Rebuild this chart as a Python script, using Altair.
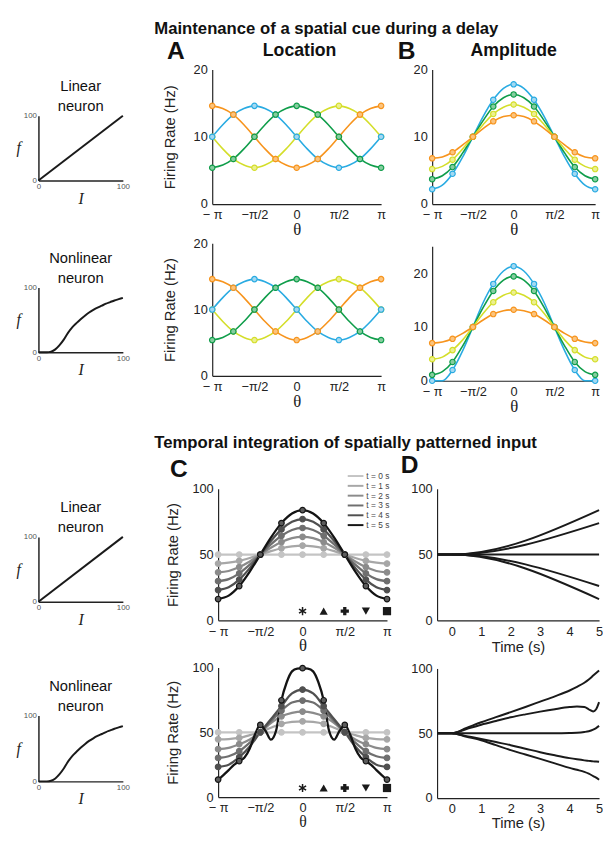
import altair as alt
import pandas as pd

FONT = "Liberation Sans"
SERIF = "Liberation Serif"
TITLE_FONT = "Liberation Sans Narrow, Liberation Sans"
INK = "#1a1a1a"

# ---------------- shared axes ----------------
theta_pi = [-1.0, -0.875, -0.75, -0.625, -0.5, -0.375, -0.25, -0.125, 0.0,
            0.125, 0.25, 0.375, 0.5, 0.625, 0.75, 0.875, 1.0]
theta_pi_fine = [-1.0, -0.9375, -0.875, -0.8125, -0.75, -0.6875, -0.625, -0.5625, -0.5,
                 -0.4375, -0.375, -0.3125, -0.25, -0.1875, -0.125, -0.0625, 0.0,
                 0.0625, 0.125, 0.1875, 0.25, 0.3125, 0.375, 0.4375, 0.5,
                 0.5625, 0.625, 0.6875, 0.75, 0.8125, 0.875, 0.9375, 1.0]
theta_tick_values = [-1, -0.5, 0, 0.5, 1]
theta_tick_labels = ["\u2212 \u03c0", "\u2212\u03c0/2", "0", "\u03c0/2", "\u03c0"]

# ---------------- A: location (same for linear and nonlinear) ----------------
cue_names = ["yellow", "blue", "orange", "green"]          # drawing order A
loc_yellow = [10.0, 8.2, 6.7, 5.8, 5.4, 5.8, 6.7, 8.2, 10.0, 11.8, 13.3, 14.2, 14.6, 14.2, 13.3, 11.8, 10.0]
loc_blue = [10.0, 11.8, 13.3, 14.2, 14.6, 14.2, 13.3, 11.8, 10.0, 8.2, 6.7, 5.8, 5.4, 5.8, 6.7, 8.2, 10.0]
loc_orange = [14.6, 14.2, 13.3, 11.8, 10.0, 8.2, 6.7, 5.8, 5.4, 5.8, 6.7, 8.2, 10.0, 11.8, 13.3, 14.2, 14.6]
loc_green = [5.4, 5.8, 6.7, 8.2, 10.0, 11.8, 13.3, 14.2, 14.6, 14.2, 13.3, 11.8, 10.0, 8.2, 6.7, 5.8, 5.4]

# ---------------- B: amplitude ----------------
amp_names = ["blue", "green", "yellow", "orange"]          # drawing order B
amp_lin_blue = [2.2, 2.8, 4.5, 7.0, 10.0, 13.0, 15.5, 17.2, 17.8, 17.2, 15.5, 13.0, 10.0, 7.0, 4.5, 2.8, 2.2]
amp_lin_green = [3.7, 4.2, 5.5, 7.6, 10.0, 12.4, 14.5, 15.8, 16.3, 15.8, 14.5, 12.4, 10.0, 7.6, 5.5, 4.2, 3.7]
amp_lin_yellow = [5.2, 5.6, 6.6, 8.2, 10.0, 11.8, 13.4, 14.4, 14.8, 14.4, 13.4, 11.8, 10.0, 8.2, 6.6, 5.6, 5.2]
amp_lin_orange = [6.8, 7.0, 7.7, 8.8, 10.0, 11.2, 12.3, 13.0, 13.2, 13.0, 12.3, 11.2, 10.0, 8.8, 7.7, 7.0, 6.8]
amp_nl_blue = [0.0, 0.0, 2.0, 5.6, 10.0, 14.5, 18.0, 20.4, 21.3, 20.4, 18.0, 14.5, 10.0, 5.6, 2.0, 0.0, 0.0]
amp_nl_green = [1.1, 1.7, 3.5, 6.5, 10.0, 13.6, 16.7, 18.7, 19.4, 18.7, 16.7, 13.6, 10.0, 6.5, 3.5, 1.7, 1.1]
amp_nl_yellow = [4.0, 4.4, 5.7, 7.6, 10.0, 12.5, 14.6, 15.9, 16.4, 15.9, 14.6, 12.5, 10.0, 7.6, 5.7, 4.4, 4.0]
amp_nl_orange = [7.0, 7.2, 7.8, 8.8, 10.0, 11.3, 12.4, 13.0, 13.2, 13.0, 12.4, 11.3, 10.0, 8.8, 7.8, 7.2, 7.0]

cue_line_colors = {"orange": "#f7941d", "blue": "#29abe2", "green": "#0f9d4a", "yellow": "#d4de2a"}
cue_fill_colors = {"orange": "#fbc47e", "blue": "#a3d9f2", "green": "#86cd9f", "yellow": "#ecf08f"}

# ---------------- C: temporal integration ----------------
t_names = ["t = 0 s", "t = 1 s", "t = 2 s", "t = 3 s", "t = 4 s", "t = 5 s"]
t_line_colors = ["#c4c4c4", "#a7a7a7", "#8b8b8b", "#6f6f6f", "#505050", "#141414"]
t_fill_colors = ["#c4c4c4", "#a7a7a7", "#8b8b8b", "#6f6f6f", "#505050", "#5c5c5c"]
flat50 = [50.0] * 17
int_lin_t1 = [43.2, 43.8, 45.2, 47.4, 50.0, 52.6, 54.8, 56.2, 56.8, 56.2, 54.8, 52.6, 50.0, 47.4, 45.2, 43.8, 43.2]
int_lin_t2 = [36.5, 37.5, 40.5, 44.8, 50.0, 55.2, 59.5, 62.5, 63.5, 62.5, 59.5, 55.2, 50.0, 44.8, 40.5, 37.5, 36.5]
int_lin_t3 = [29.8, 31.3, 35.7, 42.3, 50.0, 57.7, 64.3, 68.7, 70.2, 68.7, 64.3, 57.7, 50.0, 42.3, 35.7, 31.3, 29.8]
int_lin_t4 = [23.0, 25.1, 30.9, 39.7, 50.0, 60.3, 69.1, 74.9, 77.0, 74.9, 69.1, 60.3, 50.0, 39.7, 30.9, 25.1, 23.0]
int_lin_t5 = [16.2, 18.8, 26.1, 37.1, 50.0, 62.9, 73.9, 81.2, 83.8, 81.2, 73.9, 62.9, 50.0, 37.1, 26.1, 18.8, 16.2]
int_nl_t1 = [44.6, 44.8, 45.6, 47.8, 50.0, 53.5, 56.5, 58.0, 58.5, 58.0, 56.5, 53.5, 50.0, 47.8, 45.6, 44.8, 44.6]
int_nl_t2 = [37.0, 38.0, 40.8, 44.5, 50.0, 57.0, 62.3, 65.0, 66.0, 65.0, 62.3, 57.0, 50.0, 44.5, 40.8, 38.0, 37.0]
int_nl_t3 = [30.2, 31.5, 35.4, 42.0, 50.0, 58.5, 66.7, 73.0, 74.5, 73.0, 66.7, 58.5, 50.0, 42.0, 35.4, 31.5, 30.2]
int_nl_t4 = [23.3, 25.0, 30.8, 39.0, 50.2, 60.0, 70.2, 80.0, 83.0, 80.0, 70.2, 60.0, 50.2, 39.0, 30.8, 25.0, 23.3]
int_nl_t5_fine = [13.5, 17.0, 20.8, 24.8, 27.8, 30.5, 37.5, 48.5, 55.7, 51.0, 44.3, 51.5, 74.7, 88.6, 97.0, 99.2,
                  99.5, 99.2, 97.0, 88.6, 74.7, 51.5, 44.3, 51.0, 55.7, 48.5, 37.5, 30.5, 27.8, 24.8, 20.8, 17.0, 13.5]

sym_theta = [0.0, 0.25, 0.5, 0.75, 1.0]
sym_rate = [7, 7, 7, 7, 7]
sym_kind = ["asterisk", "triangle-up", "cross", "triangle-down", "square"]
ASTERISK = ("M-0.18,-1L0.18,-1L0.18,1L-0.18,1Z"
            "M0.776,-0.656L0.956,-0.344L-0.776,0.656L-0.956,0.344Z"
            "M-0.956,-0.344L-0.776,-0.656L0.956,0.344L0.776,0.656Z")
LEGEND_STROKE = "M-3,0L1,0"

# ---------------- D: time courses ----------------
d_names = ["0", "pi/4", "pi/2", "3pi/4", "pi"]
time_lin = [-0.5, 0.0, 5.0]
tc_lin = {"0": [50, 50, 83.8], "pi/4": [50, 50, 73.9], "pi/2": [50, 50, 50],
          "3pi/4": [50, 50, 26.1], "pi": [50, 50, 16.2]}
time_nl = [-0.5, 0.0, 0.5, 1.0, 1.5, 2.0, 2.5, 3.0, 3.5, 4.0, 4.25, 4.5, 4.65, 4.8, 4.9, 5.0]
tc_nl = {
    "0": [50, 50, 54.2, 58.5, 62.4, 66.3, 70.3, 74.4, 78.5, 83.0, 85.8, 89.0, 91.5, 94.5, 96.5, 98.5],
    "pi/4": [50, 50, 53.3, 56.6, 59.5, 62.3, 64.6, 66.7, 68.6, 70.2, 70.6, 70.2, 68.5, 66.8, 68.5, 74.0],
    "pi/2": [50, 50, 50, 50, 50, 50, 50, 50, 50, 50.2, 50.4, 51.0, 51.6, 52.8, 54.0, 55.7],
    "3pi/4": [50, 50, 47.8, 45.6, 43.2, 40.8, 38.1, 35.4, 33.0, 30.8, 29.9, 29.1, 28.7, 28.3, 28.2, 28.0],
    "pi": [50, 50, 47.3, 44.6, 40.8, 37.0, 33.6, 30.2, 26.8, 23.3, 21.8, 20.2, 18.8, 17.0, 15.8, 14.2],
}
time_tick_values = [0, 1, 2, 3, 4, 5]

# ---------------- f-I curves ----------------
fi_lin_I = [0, 100]
fi_lin_f = [0, 100]
fi_nl_I = [0, 5, 10, 15, 20, 25, 30, 35, 40, 45, 50, 55, 60, 65, 70, 75, 80, 85, 90, 95, 100]
fi_nl_f = [0, 0, 0, 1, 4.5, 11, 19.5, 30, 38.5, 45, 51, 56.5, 61.5, 65.5, 69, 72, 75, 77.5, 80, 82, 84]

INDEP = dict(color="independent", fill="independent", stroke="independent", shape="independent")
W_B = 166
W_D = 165


# ---------------- helpers ----------------
def long_df(xs, series, names, every):
    rows = []
    for name in names:
        for i, (x, v) in enumerate(zip(xs, series[name])):
            rows.append({"x": x, "y": v, "s": name, "m": i % every == 0})
    return pd.DataFrame(rows)


def theta_label_expr():
    parts = [f"datum.value == {v} ? '{l}'" for v, l in zip(theta_tick_values, theta_tick_labels)]
    return " : ".join(parts) + " : ''"


def theta_x(tsize=17, tpad=0):
    return alt.X("x:Q", scale=alt.Scale(domain=[-1, 1], nice=False, zero=False),
                 axis=alt.Axis(values=theta_tick_values, labelExpr=theta_label_expr(), title="\u03b8",
                               titleFont=SERIF, titleFontSize=tsize, titlePadding=tpad))


def rate_y(domain, values, title, tpad):
    if title is None:
        axis = alt.Axis(values=values, title=None)
    else:
        axis = alt.Axis(values=values, title=title, titlePadding=tpad)
    return alt.Y("y:Q", scale=alt.Scale(domain=domain, nice=False, zero=False), axis=axis)


def spatial_panel(df, names, lcol, fcol, ydomain, yvals, ytitle, w, h, tpad=15.5, lw=1.6, msize=30,
                  legend=None, extra=None, tsize=17, xtpad=0):
    x = theta_x(tsize, xtpad)
    y = rate_y(ydomain, yvals, ytitle, tpad)
    if legend is None:
        color = alt.Color("s:N", scale=alt.Scale(domain=names, range=lcol), legend=None)
    else:
        color = alt.Color("s:N", scale=alt.Scale(domain=names, range=lcol), legend=legend)
    lines = alt.Chart(df).mark_line(interpolate="monotone", strokeWidth=lw).encode(x=x, y=y, color=color)
    pts = alt.Chart(df).transform_filter("datum.m").mark_point(
        shape="circle", size=msize, strokeWidth=1.2, opacity=1, filled=True).encode(
        x=x, y=y,
        stroke=alt.Stroke("s:N", scale=alt.Scale(domain=names, range=lcol), legend=None),
        fill=alt.Fill("s:N", scale=alt.Scale(domain=names, range=fcol), legend=None))
    layers = [lines, pts]
    if extra is not None:
        layers.append(extra)
    return alt.layer(*layers).properties(width=w, height=h)


def symbols_layer():
    df = pd.DataFrame({"x": sym_theta, "y": sym_rate, "k": sym_kind})
    return alt.Chart(df).mark_point(filled=True, opacity=1, color=INK, size=70).encode(
        x=alt.X("x:Q"), y=alt.Y("y:Q"),
        shape=alt.Shape("k:N", scale=alt.Scale(domain=sym_kind,
                        range=[ASTERISK, "triangle-up", "cross", "triangle-down", "square"]), legend=None))


def time_panel(times, series, w, h, tpad=2):
    df = long_df(times, series, d_names, 1)
    return alt.Chart(df).mark_line(interpolate="monotone", strokeWidth=2, color=INK).encode(
        x=alt.X("x:Q", scale=alt.Scale(domain=[-0.5, 5], nice=False, zero=False),
                axis=alt.Axis(values=time_tick_values, title="Time (s)", titlePadding=tpad)),
        y=alt.Y("y:Q", scale=alt.Scale(domain=[0, 100], nice=False), axis=alt.Axis(values=[0, 50, 100], title=None)),
        detail="s:N").properties(width=w, height=h)


def fi_panel(I, f, lines_text, h):
    df = pd.DataFrame({"I": I, "f": f})
    return alt.Chart(df).mark_line(interpolate="monotone", color=INK, strokeWidth=2).encode(
        x=alt.X("I:Q", scale=alt.Scale(domain=[0, 100], nice=False),
                axis=alt.Axis(values=[0, 100], title="I", titleFont=SERIF, titleFontStyle="italic",
                              titleFontSize=16, labelFontSize=8, labelColor="#555", labelPadding=2,
                              titlePadding=0, domainWidth=1.5)),
        y=alt.Y("f:Q", scale=alt.Scale(domain=[0, 100], nice=False),
                axis=alt.Axis(values=[0, 100], title="f", titleAngle=0, titleAlign="right",
                              titleBaseline="middle", titleFont=SERIF, titleFontStyle="italic",
                              titleFontSize=16, labelFontSize=8, labelColor="#555", labelPadding=2,
                              titlePadding=3, domainWidth=1.5)),
    ).properties(width=86, height=h, title=alt.TitleParams(
        lines_text, fontSize=15, fontWeight="normal", lineHeight=20, anchor="middle",
        frame="group", offset=-2, font=FONT, color="#111"))


def spacer(w):
    return alt.Chart(pd.DataFrame({"v": [0]})).mark_point(opacity=0, size=1).encode(
        x=alt.value(0), y=alt.value(0)).properties(width=w, height=1)


def letter(txt, dx, dy):
    return alt.TitleParams(txt, anchor="start", frame="group", dx=dx, dy=dy, fontSize=25,
                           fontWeight="bold", offset=0, font=FONT, color="#111")


def head(txt, dx):
    return alt.TitleParams(txt, anchor="middle", frame="group", dx=dx, fontSize=18,
                           fontWeight="bold", offset=4, font=FONT, color="#111")


def vcat(*charts, **kw):
    return alt.vconcat(*charts, **kw).resolve_scale(**INDEP)


def hcat(*charts, **kw):
    return alt.hconcat(*charts, **kw).resolve_scale(**INDEP)


# ---------------- section 1 ----------------
loc_series = {"yellow": loc_yellow, "blue": loc_blue, "orange": loc_orange, "green": loc_green}
loc_df = long_df(theta_pi, loc_series, cue_names, 2)
amp_lin_df = long_df(theta_pi, {"blue": amp_lin_blue, "green": amp_lin_green, "yellow": amp_lin_yellow,
                                "orange": amp_lin_orange}, amp_names, 2)
amp_nl_df = long_df(theta_pi, {"blue": amp_nl_blue, "green": amp_nl_green, "yellow": amp_nl_yellow,
                               "orange": amp_nl_orange}, amp_names, 2)

lc_a = [cue_line_colors[n] for n in cue_names]
fc_a = [cue_fill_colors[n] for n in cue_names]
lc_b = [cue_line_colors[n] for n in amp_names]
fc_b = [cue_fill_colors[n] for n in amp_names]

A_top = spatial_panel(loc_df, cue_names, lc_a, fc_a, [0, 20], [0, 10, 20], "Firing Rate (Hz)", 172, 137
                      ).properties(title=head("Location", 3))
A_bot = spatial_panel(loc_df, cue_names, lc_a, fc_a, [0, 20], [0, 10, 20], "Firing Rate (Hz)", 172, 135)
B_top = spatial_panel(amp_lin_df, amp_names, lc_b, fc_b, [0, 20], [0, 10, 20], None, W_B, 137
                      ).properties(title=head("Amplitude", 0))
B_bot = spatial_panel(amp_nl_df, amp_names, lc_b, fc_b, [0, 25], [0, 10, 20], None, W_B, 137)

A_col = vcat(A_top, A_bot, spacing=0).properties(title=letter("A", -46, 22))
B_col = vcat(B_top, B_bot, spacing=9).properties(title=letter("B", -35, 22))

left1 = vcat(
    spacer(86),
    vcat(fi_panel(fi_lin_I, fi_lin_f, ["Linear", "neuron"], 66),
         fi_panel(fi_nl_I, fi_nl_f, ["Nonlinear", "neuron"], 66), spacing=46),
    spacing=9)

section1 = hcat(left1, hcat(A_col, B_col, spacing=11),
                spacing=34).properties(title=alt.TitleParams(
    "Maintenance of a spatial cue during a delay", anchor="start", frame="group", dx=118,
    fontSize=17, fontWeight="bold", font=TITLE_FONT, offset=1, color="#111"))

# ---------------- section 2 ----------------
int_lin_df = long_df(theta_pi, dict(zip(t_names, [flat50, int_lin_t1, int_lin_t2, int_lin_t3, int_lin_t4, int_lin_t5])),
                     t_names, 2)
int_nl_df = pd.concat([
    long_df(theta_pi, dict(zip(t_names[:5], [flat50, int_nl_t1, int_nl_t2, int_nl_t3, int_nl_t4])), t_names[:5], 2),
    long_df(theta_pi_fine, {t_names[5]: int_nl_t5_fine}, t_names[5:], 4)], ignore_index=True)

t_legend = alt.Legend(orient="none", legendX=139, legendY=-18, title=None, symbolType=LEGEND_STROKE,
                      symbolSize=64, symbolStrokeWidth=2, labelFontSize=8.5, labelColor="#444",
                      rowPadding=0, labelOffset=2, padding=0)

C_top = spatial_panel(int_lin_df, t_names, t_line_colors, t_fill_colors, [0, 100], [0, 50, 100],
                      "Firing Rate (Hz)", 172, 134, tpad=11.3, lw=2.3, msize=32, legend=t_legend,
                      extra=symbols_layer())
C_bot = spatial_panel(int_nl_df, t_names, t_line_colors, t_fill_colors, [0, 100], [0, 50, 100],
                      "Firing Rate (Hz)", 172, 132, tpad=11.3, lw=2.3, msize=32, extra=symbols_layer(),
                      tsize=16, xtpad=-1)
D_top = time_panel(time_lin, tc_lin, W_D, 134)
D_bot = time_panel(time_nl, tc_nl, W_D, 132, tpad=0)

C_col = vcat(C_top, C_bot, spacing=8).properties(title=letter("C", -49, 11))
D_col = vcat(D_top, D_bot, spacing=8).properties(title=letter("D", -37, -5))

left2 = vcat(
    spacer(86),
    vcat(fi_panel(fi_lin_I, fi_lin_f, ["Linear", "neuron"], 66),
         fi_panel(fi_nl_I, fi_nl_f, ["Nonlinear", "neuron"], 67), spacing=53),
    spacing=11)

section2 = hcat(left2, hcat(C_col, D_col, spacing=8),
                spacing=37).properties(title=alt.TitleParams(
    "Temporal integration of spatially patterned input", anchor="start", frame="group", dx=118,
    fontSize=17, fontWeight="bold", font=TITLE_FONT, offset=2, color="#111"))

chart = vcat(section1, section2, spacing=20).properties(
    padding={"left": 8, "top": 5, "right": 0, "bottom": 0}
).configure(font=FONT).configure_view(stroke=None).configure_axis(
    grid=False, ticks=False, tickSize=0, domainColor="#222", domainWidth=1.2,
    labelColor="#222", titleColor="#222", labelFont=FONT, labelFontSize=13,
    titleFont=FONT, titleFontSize=15, titleFontWeight="normal",
    labelOverlap=False, labelFlush=False, labelPadding=5
).configure_axisX(labelPadding=5, titlePadding=0).configure_axisY(titlePadding=10)

chart.save("out.html", embed_options={"renderer": "svg", "actions": False})
